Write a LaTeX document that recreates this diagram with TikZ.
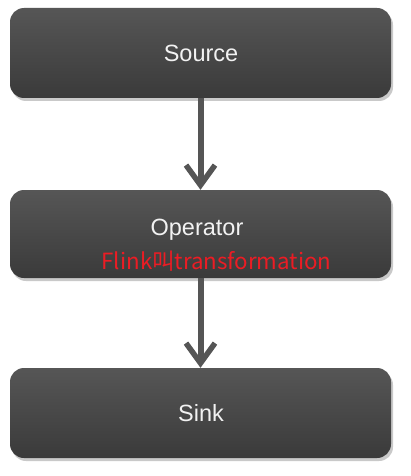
\documentclass[tikz,border=0pt]{standalone}
\usepackage{fontspec}
\setmainfont{Liberation Sans}
\newfontfamily\cjk{Noto Sans CJK SC}
\usetikzlibrary{arrows.meta,shadows}
\definecolor{boxtop}{HTML}{565656}
\definecolor{boxbot}{HTML}{3A3A3A}
\definecolor{arrowgray}{HTML}{555555}
\definecolor{txtwhite}{HTML}{F2F2F2}
\definecolor{annred}{HTML}{EC1C24}
\tikzset{
  stagebox/.style={rectangle, rounded corners=14pt, minimum width=381pt, minimum height=90pt,
    inner sep=0pt, top color=boxtop, bottom color=boxbot, draw=none,
    drop shadow={shadow xshift=2pt, shadow yshift=-3pt, opacity=0.35, fill=black!60}},
  stagelabel/.style={text=txtwhite, font=\fontsize{23.5pt}{26pt}\selectfont, inner sep=0pt},
  annlabel/.style={text=annred, font=\cjk\fontsize{22.3pt}{25pt}\selectfont, inner sep=0pt},
  flowarrow/.style={draw=arrowgray, line width=6pt,
    -{Straight Barb[length=20pt,width=29pt,line width=5.5pt]}}
}
\begin{document}
\begin{tikzpicture}[x=1pt,y=-1pt]
\useasboundingbox[fill=white] (0,0) rectangle (410,476);
\node[stagebox] (src) at (200.5,53) {};
\node[stagebox, minimum height=88pt] (op) at (200.5,234) {};
\node[stagebox] (snk) at (200.5,413) {};
\node[stagelabel] (srct) at (201,53) {Source};
\node[stagelabel] (opt) at (197,230) {Operator};
\node[annlabel] (ann) at (216.5,261) {Flink叫transformation};
\node[stagelabel] (snkt) at (201,413) {Sink};
\draw[flowarrow] (src.south) -- (op.north);
\draw[flowarrow] (op.south) -- (snk.north);
\end{tikzpicture}
\end{document}
